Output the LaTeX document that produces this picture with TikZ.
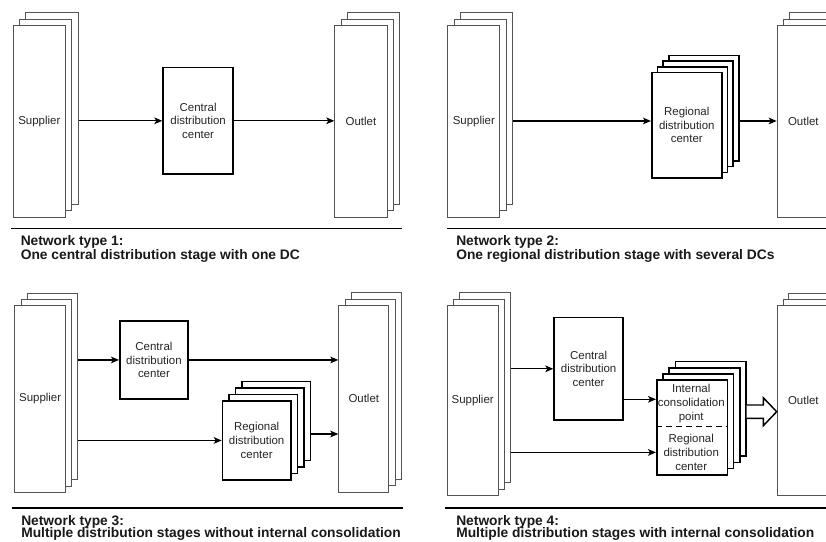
\documentclass[tikz,border=0pt]{standalone}
\usepackage{fontspec}
\setmainfont{Liberation Sans}
\usetikzlibrary{arrows.meta,calc}

\newcommand{\lblfont}{\fontsize{8.6}{10.2}\selectfont}
\newcommand{\ttlfont}{\fontsize{10.35}{9.75}\selectfont\bfseries}

% A stack of equal boxes: #1 name, #2 left, #3 top, #4 width, #5 height,
% #6 number of layers behind the front one, #7 layer offset, #8 style, #9 text
\newcommand{\layered}[9]{%
  \foreach \k in {#6,...,1}{%
    \node[#8, anchor=north west, minimum width=#4*0.75pt, minimum height=#5*0.75pt]
      (#1-\k) at (#2+\k*#7, #3-\k*#7) {};
  }
  \node[#8, anchor=north west, minimum width=#4*0.75pt, minimum height=#5*0.75pt]
    (#1) at (#2,#3) {#9};
}

\tikzset{
  tallbox/.style={draw=gray!65!black, line width=0.75pt, fill=white, inner sep=0pt,
                  font=\lblfont, align=center, text=black!85},
  dcbox/.style={draw=black, line width=1.2pt, fill=white, inner sep=0pt,
                font=\lblfont, align=center, text=black!85},
  lbl/.style={font=\lblfont, align=center, inner sep=0pt, text=black!85},
  arr/.style={line width=1pt, -{Stealth[length=6pt,width=5pt,inset=1.5pt]}},
  fatarrow/.style={line width=1.1pt, fill=white, line join=miter},
  rule/.style={line width=#1, black},
  ttl/.style={font=\ttlfont, anchor=base west, inner sep=0pt, text=black!90},
}

\begin{document}
\begin{tikzpicture}[x=0.75pt,y=-0.75pt]
\useasboundingbox (0,0) rectangle (826,542);
\fill[white] (0,0) rectangle (826,542);
\clip (0,0) rectangle (826,542);

% ---------- Network type 1 ----------
\layered{sup1}{12.7}{25}{52.3}{191.7}{2}{6.3}{tallbox}{Supplier}
\layered{out1}{334.3}{25}{52.3}{191.7}{2}{6.3}{tallbox}{Outlet}
\node[dcbox, anchor=north west, minimum width=70*0.75pt, minimum height=106.6*0.75pt]
  (dc1) at (162.3,66.7) {Central\\distribution\\center};
\draw[arr] (sup1-2.east |- dc1.west) -- (dc1.west);
\draw[arr] (dc1.east) -- (out1.west |- dc1.east);
\coordinate (r1a) at (11,228.3);
\coordinate (r1b) at (402,228.3);
\draw[rule=0.8pt] (r1a) -- (r1b);
\node[ttl] (t1a) at (20.5,245.7) {Network type 1:};
\node[ttl] (t1b) at (20.5,259.3) {One central distribution stage with one DC};

% ---------- Network type 2 ----------
\layered{sup2}{447.3}{25}{52}{191.7}{2}{6.3}{tallbox}{Supplier}
\layered{out2}{776.7}{25}{52.3}{191.7}{2}{6.3}{tallbox}{Outlet}
\layered{dc2}{651}{71.7}{70}{105.6}{3}{5.7}{dcbox}{Regional\\distribution\\center}
\coordinate (y2) at (0,121);
\draw[arr] (sup2-2.east |- y2) -- (dc2.west |- y2);
\draw[arr] (dc2-3.east |- y2) -- (out2.west |- y2);
\coordinate (r2a) at (447,228.3);
\coordinate (r2b) at (826,228.3);
\draw[rule=0.8pt] (r2a) -- (r2b);
\node[ttl] (t2a) at (456,245.7) {Network type 2:};
\node[ttl] (t2b) at (456,259.3) {One regional distribution stage with several DCs};

% ---------- Network type 3 ----------
\layered{sup3}{14.3}{305}{50.7}{186.7}{2}{6.2}{tallbox}{Supplier}
\layered{out3}{338.3}{305}{50}{186.7}{2}{6.3}{tallbox}{Outlet}
\node[dcbox, anchor=north west, minimum width=68.3*0.75pt, minimum height=78.3*0.75pt]
  (cdc3) at (119,320) {Central\\distribution\\center};
\layered{rdc3}{221.7}{400}{68.3}{79.3}{3}{6.5}{dcbox}{Regional\\distribution\\center}
\draw[arr] (sup3-2.east |- cdc3.west) -- (cdc3.west);
\draw[arr] (cdc3.east) -- (out3.west |- cdc3.east);
\draw[arr] (sup3-2.east |- rdc3.west) -- (rdc3.west);
\coordinate (r3y) at (0,434);
\draw[arr] (rdc3-3.east |- r3y) -- (out3.west |- r3y);
\coordinate (r3a) at (11.7,508.3);
\coordinate (r3b) at (403,508.3);
\draw[rule=1.6pt] (r3a) -- (r3b);
\node[ttl] (t3a) at (21,525) {Network type 3:};
\node[ttl] (t3b) at (21,537.9) {Multiple distribution stages without internal consolidation};

% ---------- Network type 4 ----------
\layered{sup4}{446.7}{305}{51}{190}{2}{6.3}{tallbox}{Supplier}
\layered{out4}{776.7}{305}{52.3}{190}{2}{5.8}{tallbox}{Outlet}
\node[dcbox, anchor=north west, minimum width=69*0.75pt, minimum height=102.6*0.75pt]
  (cdc4) at (553.3,316.7) {Central\\distribution\\center};
\layered{cons4}{656}{379.3}{70.5}{94.7}{3}{6.2}{dcbox}{}
\node[lbl] (icp4) at (691.25,403.5) {Internal\\consolidation\\point};
\node[lbl] (rdc4) at (691.25,452.4) {Regional\\distribution\\center};
\coordinate (dash4) at (0,426.7);
\draw[line width=0.9pt, dash pattern=on 4.5pt off 3pt] (cons4.west |- dash4) -- (cons4.east |- dash4);
\draw[arr] (sup4-2.east |- cdc4.west) -- (cdc4.west);
\coordinate (c4y) at (0,399.3);
\draw[arr] (cdc4.east |- c4y) -- (cons4.west |- c4y);
\draw[arr] (sup4-2.east |- rdc4) -- (cons4.west |- rdc4);
% broad arrow from the consolidation stage to the outlets
\coordinate (fatY) at (0,411.7);
\coordinate (fa0) at (cons4-3.east |- fatY);
\coordinate (fa1) at (out4.west |- fatY);
\draw[fatarrow] ($(fa0)+(0,-6.7)$) -- ($(fa1)+(-13.4,-6.7)$) -- ($(fa1)+(-13.4,-14)$)
  -- (fa1) -- ($(fa1)+(-13.4,14)$) -- ($(fa1)+(-13.4,6.7)$) -- ($(fa0)+(0,6.7)$);
\coordinate (r4a) at (445,508.3);
\coordinate (r4b) at (826,508.3);
\draw[rule=1.6pt] (r4a) -- (r4b);
\node[ttl] (t4a) at (456,525) {Network type 4:};
\node[ttl] (t4b) at (456,537.9) {Multiple distribution stages with internal consolidation};
\end{tikzpicture}
\end{document}
